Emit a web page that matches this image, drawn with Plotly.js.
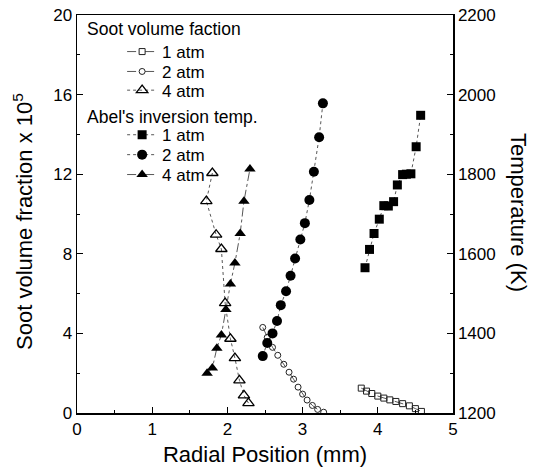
<!DOCTYPE html>
<html>
<head>
<meta charset="utf-8">
<script src="https://cdn.plot.ly/plotly-3.0.1.min.js"></script>
<style>html,body{margin:0;padding:0;background:#fff;}#chart{width:537px;height:473px;}</style>
</head>
<body>
<div id="chart"></div>
<script>
// Soot volume fraction (x 10^5), left axis
const soot1X = [3.78, 3.85, 3.92, 4.00, 4.08, 4.16, 4.24, 4.33, 4.42, 4.50, 4.58];
const soot1Y = [1.25, 1.10, 0.98, 0.85, 0.75, 0.66, 0.58, 0.47, 0.36, 0.22, 0.08];
const soot2X = [2.47, 2.53, 2.60, 2.67, 2.75, 2.82, 2.88, 2.94, 3.00, 3.06, 3.13, 3.20, 3.28];
const soot2Y = [4.30, 3.80, 3.30, 2.90, 2.45, 2.05, 1.70, 1.30, 0.95, 0.65, 0.38, 0.18, 0.04];
const soot4X = [1.80, 1.72, 1.85, 1.92, 1.97, 2.04, 2.10, 2.16, 2.22, 2.28];
const soot4Y = [12.06, 10.65, 8.96, 8.24, 5.52, 3.73, 2.76, 1.64, 0.89, 0.50];
// Abel's inversion temperature (K), right axis
const temp1X = [3.83, 3.89, 3.95, 4.02, 4.08, 4.14, 4.21, 4.26, 4.33, 4.38, 4.44, 4.51, 4.57];
const temp1Y = [1565, 1611, 1651, 1687, 1721, 1720, 1731, 1773, 1799, 1800, 1801, 1869, 1948];
const temp2X = [2.47, 2.53, 2.60, 2.66, 2.71, 2.78, 2.84, 2.90, 2.97, 3.03, 3.09, 3.15, 3.22, 3.27];
const temp2Y = [1343, 1376, 1400, 1431, 1471, 1506, 1545, 1588, 1636, 1677, 1735, 1806, 1893, 1978];
const temp4X = [1.73, 1.80, 1.86, 1.92, 1.98, 2.04, 2.10, 2.17, 2.22, 2.30];
const temp4Y = [1300, 1313, 1363, 1396, 1460, 1524, 1577, 1651, 1732, 1813];
const seriesNames = ["1 atm", "2 atm", "4 atm"];

const FONT = "Liberation Sans, Arial, Helvetica, sans-serif";
const LC = "#444";
const traces = [
  {x: soot1X, y: soot1Y, name: seriesNames[0], mode: "lines+markers", legend: "legend",
   line: {color: LC, width: 0.9, dash: "dash"},
   marker: {symbol: "square-open", size: 6, color: "#222", line: {width: 1}}},
  {x: soot2X, y: soot2Y, name: seriesNames[1], mode: "lines+markers", legend: "legend2",
   line: {color: LC, width: 0.9, dash: "dash"},
   marker: {symbol: "circle-open", size: 6, color: "#222", line: {width: 1}}},
  {x: soot4X, y: soot4Y, name: seriesNames[2], mode: "lines+markers", legend: "legend3",
   line: {color: LC, width: 0.9, dash: "dot"},
   marker: {symbol: "triangle-up-open", size: 10, color: "#000", line: {width: 1.3}}},
  {x: temp1X, y: temp1Y, name: seriesNames[0], mode: "lines+markers", legend: "legend4", yaxis: "y2",
   line: {color: LC, width: 0.9, dash: "dot"},
   marker: {symbol: "square", size: 9, color: "#000"}},
  {x: temp2X, y: temp2Y, name: seriesNames[1], mode: "lines+markers", legend: "legend5", yaxis: "y2",
   line: {color: LC, width: 0.9, dash: "dot"},
   marker: {symbol: "circle", size: 10, color: "#000"}},
  {x: temp4X, y: temp4Y, name: seriesNames[2], mode: "lines+markers", legend: "legend6", yaxis: "y2",
   line: {color: LC, width: 0.9, dash: "dashdot"},
   marker: {symbol: "triangle-up", size: 10, color: "#000"}}
];

const axisCommon = {
  showline: true, linecolor: "#000", linewidth: 1.5, ticks: "inside", ticklen: 6, tickwidth: 1.2,
  tickcolor: "#000", showgrid: false, zeroline: false,
  tickfont: {family: FONT, size: 17, color: "#000"},
  minor: {ticks: "inside", ticklen: 3, tickwidth: 1, tickcolor: "#000"}
};

function leg(yc) {
  return {x: 0.12, y: yc, xanchor: "left", yanchor: "middle", bgcolor: "rgba(0,0,0,0)",
    font: {family: FONT, size: 17, color: "#000"}, itemwidth: 30};
}

const layout = {
  width: 537, height: 473,
  margin: {l: 77, r: 84, t: 15, b: 60},
  paper_bgcolor: "#fff", plot_bgcolor: "#fff",
  font: {family: FONT, color: "#000"},
  showlegend: true,
  xaxis: Object.assign({}, axisCommon, {
    range: [0, 5], dtick: 1, tick0: 0, mirror: true,
    minor: Object.assign({}, axisCommon.minor, {dtick: 0.5}),
    title: {text: "Radial Position (mm)", font: {family: FONT, size: 22, color: "#000"}, standoff: 8}
  }),
  yaxis: Object.assign({}, axisCommon, {
    range: [0, 20], dtick: 4, tick0: 0,
    minor: Object.assign({}, axisCommon.minor, {dtick: 2})
  }),
  yaxis2: Object.assign({}, axisCommon, {
    range: [1200, 2200], dtick: 200, tick0: 1200, overlaying: "y", side: "right",
    minor: Object.assign({}, axisCommon.minor, {dtick: 100})
  }),
  legend: leg(0.907),
  legend2: leg(0.857),
  legend3: leg(0.810),
  legend4: leg(0.698),
  legend5: leg(0.648),
  legend6: leg(0.598),
  annotations: [
    {text: "Soot volume faction", xref: "paper", yref: "paper", x: 0.02, y: 0.965,
     xanchor: "left", yanchor: "middle", showarrow: false, font: {family: FONT, size: 17.5, color: "#000"}},
    {text: "Abel's inversion temp.", xref: "paper", yref: "paper", x: 0.02, y: 0.744,
     xanchor: "left", yanchor: "middle", showarrow: false, font: {family: FONT, size: 17.5, color: "#000"}},
    {text: "Soot volume fraction x 10<sup>5</sup>", xref: "paper", yref: "paper", x: 0, y: 0.48, xshift: -54,
     xanchor: "center", yanchor: "middle", textangle: -90, showarrow: false,
     font: {family: FONT, size: 22, color: "#000"}},
    {text: "Temperature (K)", xref: "paper", yref: "paper", x: 1, y: 0.505, xshift: 66,
     xanchor: "center", yanchor: "middle", textangle: 90, showarrow: false,
     font: {family: FONT, size: 22, color: "#000"}}
  ]
};

Plotly.newPlot("chart", traces, layout, {displayModeBar: false, staticPlot: true});
</script>
</body>
</html>
